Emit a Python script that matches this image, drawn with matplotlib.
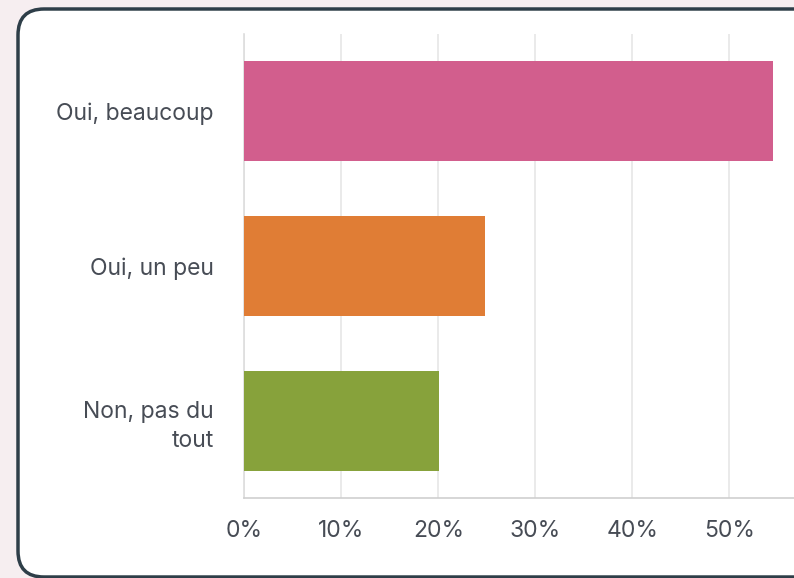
import matplotlib.pyplot as plt
from matplotlib.patches import FancyBboxPatch

categories = ["Oui, beaucoup", "Oui, un peu", "Non, pas du\ntout"]
percents = [54.5, 24.8, 20.1]
colors = ["#d25e8d", "#e07d35", "#87a23b"]
ticks = [0, 10, 20, 30, 40, 50]
tick_labels = ["0%", "10%", "20%", "30%", "40%", "50%"]

text_color = "#474c55"
plt.rcParams["font.family"] = ["Inter", "DejaVu Sans"]

fig = plt.figure(figsize=(7.94, 5.78), dpi=100)
fig.patch.set_facecolor("#f6eef0")

# rounded white card behind the chart (inch coordinates)
card = FancyBboxPatch((0.18, 0.01), 9.0, 5.68,
                      boxstyle="round,pad=0,rounding_size=0.26",
                      transform=fig.dpi_scale_trans, facecolor="white",
                      edgecolor="#2e3e48", linewidth=2.5, zorder=-1)
fig.patches.append(card)

ax = fig.add_axes([244.5 / 794, 1 - 498 / 578, 1 - 244.5 / 794, 464 / 578])
ax.set_facecolor("none")

y = range(len(categories))
ax.barh(y, percents, height=0.645, color=colors, zorder=3)

ax.set_xlim(0, 56.65)
ax.set_ylim(2.5, -0.5)
ax.set_xticks(ticks)
ax.set_xticklabels(tick_labels)
ax.set_yticks(list(y))
ax.set_yticklabels(categories, ha="right", linespacing=1.4)

ax.tick_params(axis="both", length=0, colors=text_color, labelsize=16.5)
ax.tick_params(axis="y", pad=22)
ax.tick_params(axis="x", pad=16)

ax.grid(axis="x", color="#e6e6e6", linewidth=1.2, zorder=0)
for s in ["top", "right"]:
    ax.spines[s].set_visible(False)
ax.spines["left"].set_color("#dddddd")
ax.spines["bottom"].set_color("#cfcfcf")
ax.spines["left"].set_linewidth(1.2)
ax.spines["bottom"].set_linewidth(1.2)

fig.savefig("out.png", dpi=100, facecolor=fig.get_facecolor())
